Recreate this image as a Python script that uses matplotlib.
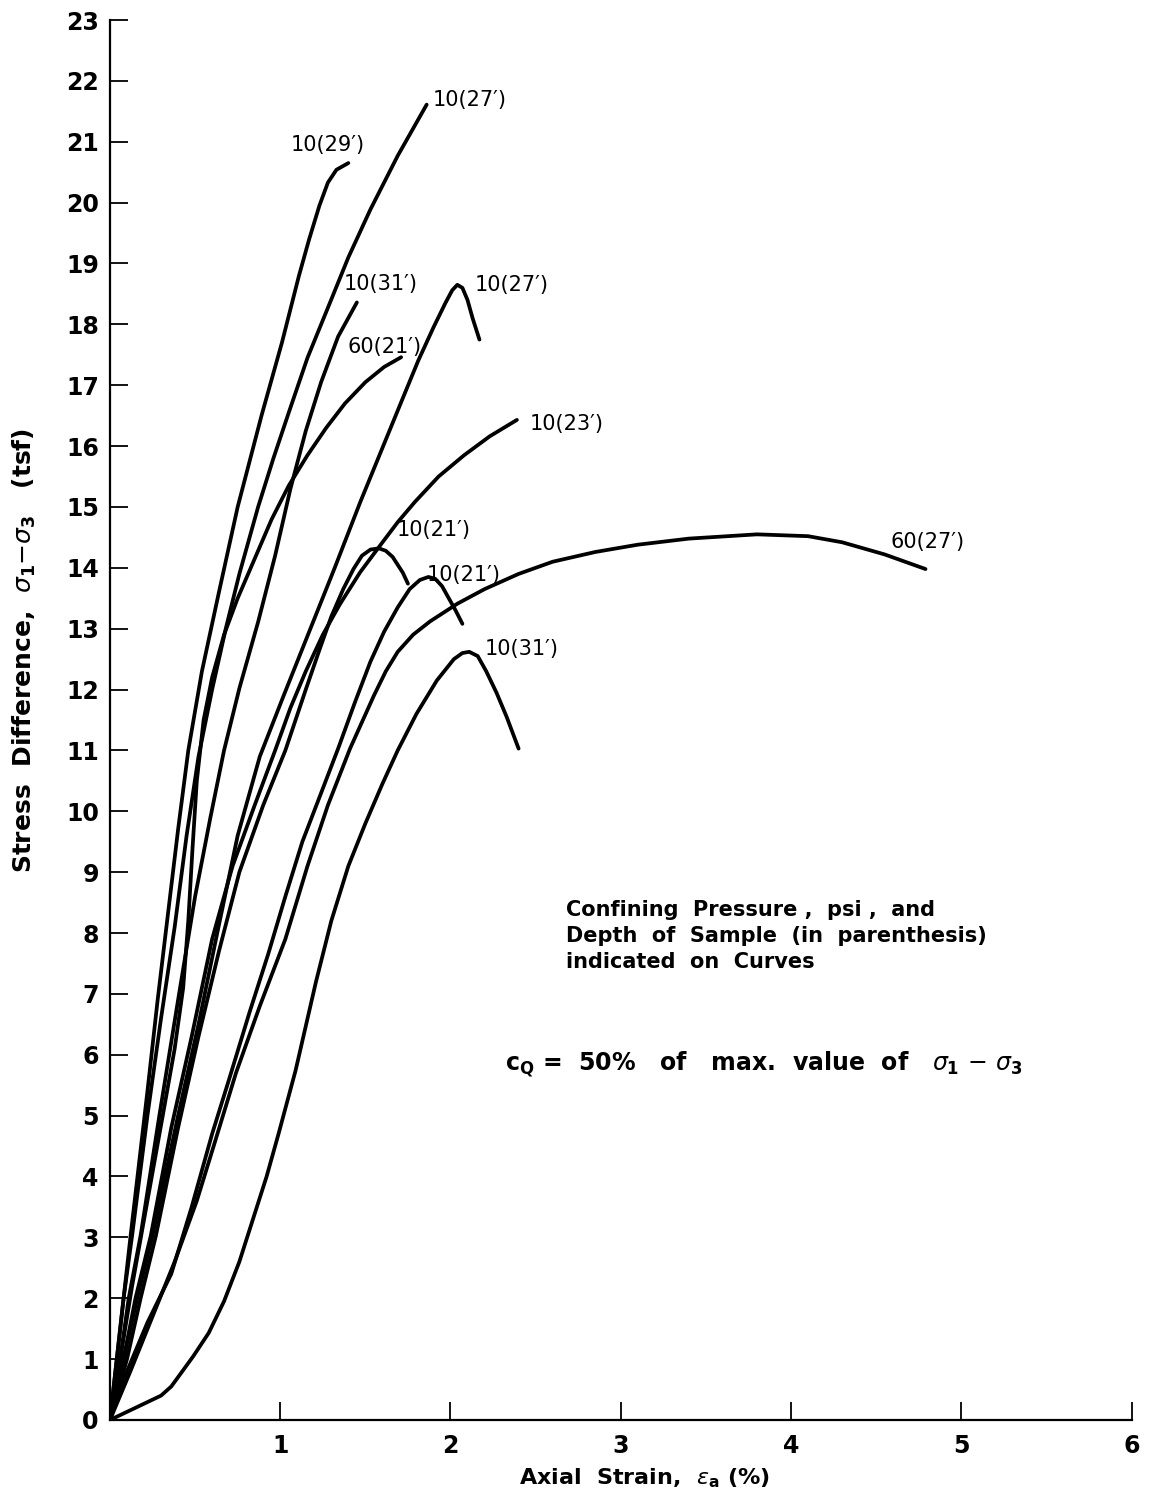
import matplotlib
matplotlib.use("Agg")
import matplotlib.pyplot as plt

# strain (%) / stress difference (tsf), one pair of lists per test
x_10_29 = [0, 0.04, 0.08, 0.12, 0.17, 0.22, 0.28, 0.34, 0.40, 0.46, 0.54, 0.64, 0.75, 0.89, 1.01, 1.11, 1.17, 1.23, 1.28, 1.33, 1.40]
y_10_29 = [0, 1.0, 2.0, 3.0, 4.2, 5.4, 6.9, 8.3, 9.7, 11.0, 12.3, 13.6, 15.0, 16.5, 17.7, 18.8, 19.4, 19.95, 20.33, 20.54, 20.65]

x_10_27a = [0, 0.04, 0.08, 0.13, 0.22, 0.30, 0.38, 0.45, 0.52, 0.60, 0.68, 0.76, 0.87, 0.96, 1.05, 1.16, 1.30, 1.40, 1.53, 1.69, 1.86]
y_10_27a = [0, 1.0, 2.0, 3.03, 5.0, 6.6, 8.1, 9.6, 10.9, 12.0, 13.0, 13.9, 15.0, 15.8, 16.55, 17.45, 18.41, 19.1, 19.89, 20.77, 21.61]

x_10_31a = [0, 0.06, 0.11, 0.18, 0.29, 0.40, 0.50, 0.59, 0.67, 0.76, 0.87, 0.97, 1.06, 1.15, 1.24, 1.34, 1.45]
y_10_31a = [0, 1.0, 2.0, 3.03, 5.0, 6.9, 8.6, 9.9, 11.0, 12.02, 13.11, 14.2, 15.3, 16.25, 17.05, 17.8, 18.36]

x_60_21 = [0, 0.06, 0.13, 0.22, 0.31, 0.38, 0.43, 0.46, 0.485, 0.51, 0.55, 0.60, 0.67, 0.75, 0.85, 0.95, 1.05, 1.16, 1.27, 1.38, 1.50, 1.61, 1.71]
y_60_21 = [0, 1.0, 2.2, 3.6, 5.0, 6.1, 7.1, 8.2, 9.4, 10.5, 11.5, 12.2, 12.9, 13.5, 14.15, 14.8, 15.35, 15.85, 16.3, 16.7, 17.05, 17.3, 17.46]

x_10_27b = [0, 0.08, 0.16, 0.25, 0.40, 0.52, 0.63, 0.75, 0.88, 1.02, 1.17, 1.32, 1.47, 1.59, 1.71, 1.81, 1.90, 1.97, 2.01, 2.04, 2.07, 2.10, 2.13, 2.17]
y_10_27b = [0, 1.0, 2.0, 3.03, 5.0, 6.5, 8.0, 9.6, 10.9, 11.9, 12.95, 14.0, 15.08, 15.9, 16.72, 17.4, 17.95, 18.35, 18.56, 18.65, 18.6, 18.4, 18.1, 17.75]

x_10_23 = [0, 0.08, 0.15, 0.24, 0.36, 0.48, 0.60, 0.72, 0.85, 0.97, 1.06, 1.15, 1.25, 1.35, 1.47, 1.59, 1.69, 1.79, 1.93, 2.08, 2.23, 2.39]
y_10_23 = [0, 1.0, 2.0, 3.03, 4.8, 6.3, 7.9, 9.1, 10.1, 11.0, 11.7, 12.3, 12.9, 13.4, 13.93, 14.38, 14.75, 15.08, 15.5, 15.85, 16.16, 16.43]

x_10_21a = [0, 0.10, 0.18, 0.27, 0.40, 0.52, 0.64, 0.76, 0.90, 1.03, 1.15, 1.23, 1.30, 1.37, 1.43, 1.48, 1.53, 1.58, 1.62, 1.66, 1.69, 1.72, 1.75]
y_10_21a = [0, 1.0, 2.0, 3.03, 4.8, 6.3, 7.7, 9.0, 10.1, 11.0, 12.0, 12.65, 13.2, 13.65, 13.98, 14.2, 14.3, 14.32, 14.28, 14.18, 14.05, 13.92, 13.74]

x_10_21b = [0, 0.10, 0.22, 0.36, 0.48, 0.60, 0.70, 0.82, 0.93, 1.03, 1.13, 1.24, 1.34, 1.44, 1.53, 1.61, 1.69, 1.76, 1.82, 1.87, 1.91, 1.95, 1.99, 2.03, 2.07]
y_10_21b = [0, 0.8, 1.6, 2.4, 3.5, 4.7, 5.6, 6.7, 7.66, 8.6, 9.5, 10.3, 11.03, 11.8, 12.46, 12.95, 13.35, 13.65, 13.8, 13.85, 13.82, 13.7, 13.5, 13.3, 13.08]

x_60_27 = [0, 0.12, 0.25, 0.38, 0.51, 0.62, 0.74, 0.88, 1.03, 1.16, 1.28, 1.41, 1.55, 1.62, 1.69, 1.78, 1.88, 2.04, 2.20, 2.40, 2.60, 2.85, 3.10, 3.40, 3.80, 4.10, 4.30, 4.55, 4.79]
y_60_27 = [0, 0.8, 1.7, 2.6, 3.6, 4.6, 5.7, 6.8, 7.9, 9.1, 10.1, 11.03, 11.9, 12.3, 12.62, 12.9, 13.12, 13.41, 13.65, 13.9, 14.1, 14.26, 14.38, 14.48, 14.55, 14.52, 14.42, 14.22, 13.98]

x_10_31b = [0, 0.15, 0.30, 0.36, 0.42, 0.49, 0.58, 0.67, 0.76, 0.84, 0.92, 0.99, 1.09, 1.21, 1.30, 1.40, 1.50, 1.60, 1.69, 1.80, 1.92, 2.02, 2.07, 2.11, 2.16, 2.21, 2.27, 2.33, 2.40]
y_10_31b = [0, 0.2, 0.4, 0.55, 0.78, 1.05, 1.43, 1.95, 2.6, 3.3, 4.0, 4.7, 5.74, 7.2, 8.2, 9.1, 9.8, 10.45, 11.0, 11.6, 12.15, 12.5, 12.6, 12.62, 12.55, 12.3, 11.95, 11.55, 11.03]

curves = [
    (x_10_29, y_10_29), (x_10_27a, y_10_27a), (x_10_31a, y_10_31a), (x_60_21, y_60_21),
    (x_10_27b, y_10_27b), (x_10_23, y_10_23), (x_10_21a, y_10_21a), (x_10_21b, y_10_21b),
    (x_60_27, y_60_27), (x_10_31b, y_10_31b),
]

# curve labels: text, x, y
lab_txt = ["10(29′)", "10(27′)", "10(31′)", "60(21′)", "10(27′)", "10(23′)",
           "10(21′)", "10(21′)", "60(27′)", "10(31′)"]
lab_x = [1.28, 2.11, 1.59, 1.61, 2.36, 2.68, 1.90, 2.08, 4.80, 2.42]
lab_y = [20.95, 21.69, 18.66, 17.62, 18.64, 16.36, 14.62, 13.89, 14.43, 12.66]

x_ticks = [0, 1, 2, 3, 4, 5, 6]
y_ticks = list(range(0, 24))

plt.rcParams["font.family"] = ["DejaVu Sans"]

fig = plt.figure(figsize=(11.54, 14.95), dpi=100)
ax = fig.add_axes([0.0953, 0.0502, 0.8926, 0.9364])

for xs, ys in curves:
    ax.plot(xs, ys, color="black", lw=2.7, solid_joinstyle="round", solid_capstyle="round")

for t, lx, ly in zip(lab_txt, lab_x, lab_y):
    ax.text(lx, ly, t, fontsize=15, ha="center", va="center")

ax.text(2.68, 7.95, "Confining  Pressure ,  psi ,  and\nDepth  of  Sample  (in  parenthesis)\nindicated  on  Curves",
        fontsize=15, fontweight="bold", ha="left", va="center", linespacing=1.35)
ax.text(2.32, 5.85, r"c$_\mathbf{Q}$ =  50%   of   max.  value  of   $\sigma_\mathbf{1}$ $-$ $\sigma_\mathbf{3}$",
        fontsize=17, fontweight="bold", ha="left", va="center")

ax.set_xlim(0, 6.05)
ax.set_ylim(0, 23)
for s in ["top", "right"]:
    ax.spines[s].set_visible(False)
ax.spines["left"].set_bounds(0, 23)
ax.spines["bottom"].set_bounds(0, 6)
for s in ["left", "bottom"]:
    ax.spines[s].set_linewidth(1.6)

ax.set_xticks(x_ticks)
ax.set_xticklabels([""] + [str(v) for v in x_ticks[1:]])
ax.set_yticks(y_ticks)
ax.tick_params(axis="both", direction="in", length=13, width=1.3, labelsize=17)
ax.tick_params(axis="x", pad=10)
ax.tick_params(axis="y", pad=8)
for lbl in ax.get_xticklabels() + ax.get_yticklabels():
    lbl.set_fontweight("bold")

ax.set_xlabel(r"Axial  Strain,  $\epsilon_\mathbf{a}$ (%)", fontsize=16, fontweight="bold")
ax.xaxis.set_label_coords(0.519, -0.033)
ax.set_ylabel(r"Stress  Difference,  $\sigma_\mathbf{1}$$-$$\sigma_\mathbf{3}$   (tsf)", fontsize=18, fontweight="bold")
ax.yaxis.set_label_coords(-0.07, 0.55)

fig.savefig("out.png", dpi=100)
